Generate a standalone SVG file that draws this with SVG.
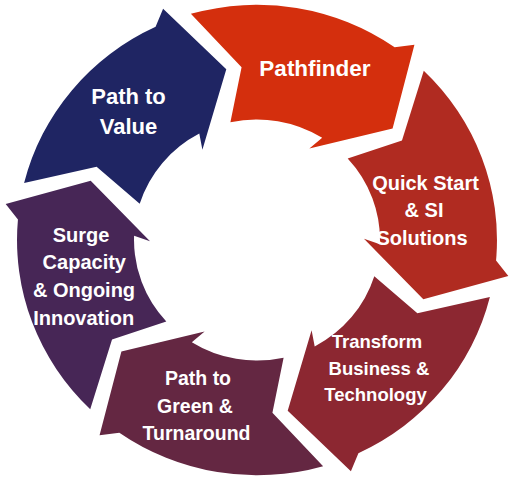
<svg xmlns="http://www.w3.org/2000/svg" xmlns:xlink="http://www.w3.org/1999/xlink" width="512" height="481" viewBox="0 0 512 481">
<style>
.lbl{font-family:"Liberation Sans",Arial,sans-serif;font-weight:bold;fill:#ffffff;text-anchor:middle}
</style>
<defs>
<path id="seg" d="M -232.9,-58.1 L -160.4,-74.8 L -117.3,-37.0 A 123 123 0 0 1 -57.7,-108.6 L -54.6,-92.0 L -30.7,-174.3 L -93.9,-236.0 L -101.4,-217.5 A 240 240 0 0 0 -232.9,-58.1 Z"/>
</defs>
<rect width="512" height="481" fill="#ffffff"/>
<g id="connectors"></g>
<g id="path-to-value">
<use xlink:href="#seg" href="#seg" transform="translate(257,240) scale(1,0.98) rotate(0)" fill="#1f2563"/>
<text class="lbl" font-size="22" x="128.5" y="103.5">Path to</text>
<text class="lbl" font-size="22" x="128.5" y="134">Value</text>
</g>
<g id="pathfinder">
<use xlink:href="#seg" href="#seg" transform="translate(257,240) scale(1,0.98) rotate(60)" fill="#d42f0d"/>
<text class="lbl" font-size="22.5" x="315" y="76">Pathfinder</text>
</g>
<g id="quick-start">
<use xlink:href="#seg" href="#seg" transform="translate(257,240) scale(1,0.98) rotate(120)" fill="#b02b21"/>
<text class="lbl" font-size="20" x="425.5" y="189.5">Quick Start</text>
<text class="lbl" font-size="20" x="424" y="217">&amp; SI</text>
<text class="lbl" font-size="20" x="422" y="245">Solutions</text>
</g>
<g id="transform">
<use xlink:href="#seg" href="#seg" transform="translate(257,240) scale(1,0.98) rotate(180)" fill="#8c2731"/>
<text class="lbl" font-size="18.5" x="377" y="348">Transform</text>
<text class="lbl" font-size="18.5" x="379" y="375">Business &amp;</text>
<text class="lbl" font-size="18.5" x="375.5" y="401">Technology</text>
</g>
<g id="path-to-green">
<use xlink:href="#seg" href="#seg" transform="translate(257,240) scale(1,0.98) rotate(240)" fill="#642742"/>
<text class="lbl" font-size="19.5" x="198" y="385">Path to</text>
<text class="lbl" font-size="19.5" x="195" y="413">Green &amp;</text>
<text class="lbl" font-size="19.5" x="196.5" y="440">Turnaround</text>
</g>
<g id="surge">
<use xlink:href="#seg" href="#seg" transform="translate(257,240) scale(1,0.98) rotate(300)" fill="#472656"/>
<text class="lbl" font-size="20" x="81" y="241.5">Surge</text>
<text class="lbl" font-size="20" x="84.3" y="269">Capacity</text>
<text class="lbl" font-size="20" x="84" y="297">&amp; Ongoing</text>
<text class="lbl" font-size="20" x="83.7" y="325">Innovation</text>
</g>
</svg>
